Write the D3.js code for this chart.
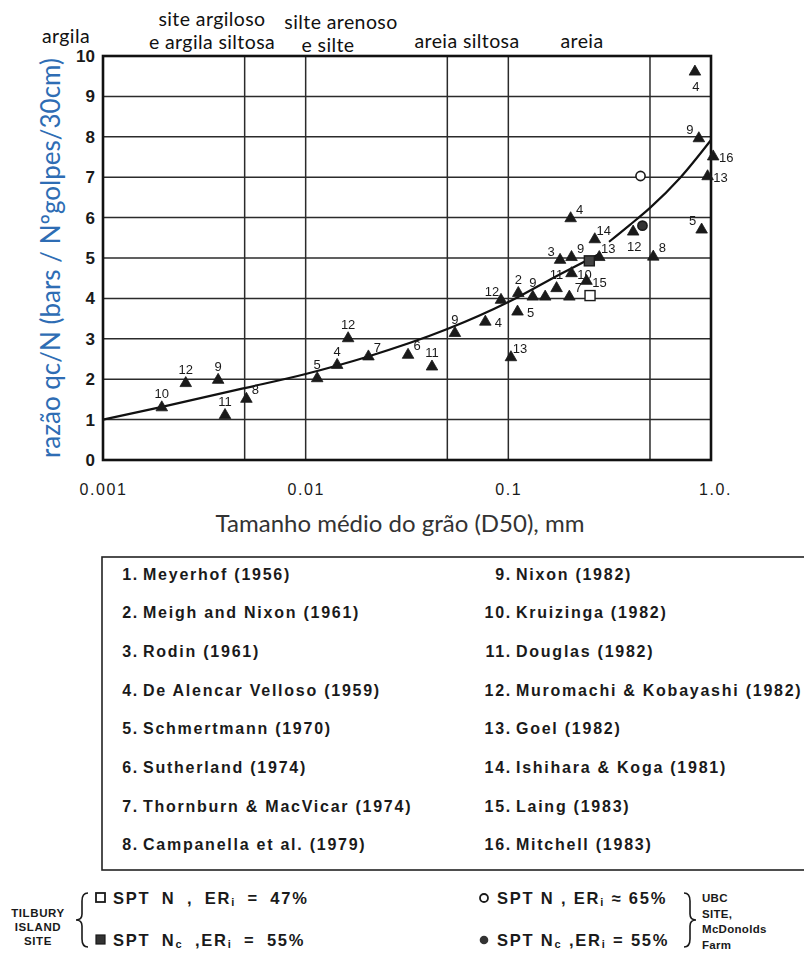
<!DOCTYPE html>
<html>
<head>
<meta charset="utf-8">
<script src="https://cdn.jsdelivr.net/npm/d3@7"></script>
<style>
  body { margin: 0; background: #fff; }
  svg { display: block; }
</style>
</head>
<body>
<svg id="chart" width="804" height="953"></svg>
<script>
// ---- data -------------------------------------------------------------
// study number written next to each triangle (blank = unnumbered point)
const studyLabels = ["10","12","9","11","8","5","4","12","7","6","11","9","4","12","2","5","13","9","","11",
                     "3","9","10","7","4","14","13","15","12","8","5","4","9","16","13"];
// mean grain size D50 (mm)
const grainSize = [0.00195,0.00256,0.0037,0.0040,0.0051,0.0114,0.0143,0.0162,0.0204,0.032,0.042,0.0545,0.077,0.092,0.112,0.111,0.103,0.132,0.152,0.173,
                   0.180,0.205,0.205,0.200,0.203,0.267,0.281,0.243,0.413,0.519,0.899,0.833,0.871,1.025,0.962];
// qc/N ratio
const ratio = [1.30,1.90,1.98,1.11,1.51,2.02,2.35,3.01,2.56,2.60,2.31,3.14,3.42,3.96,4.13,3.67,2.54,4.04,4.04,4.25,
               4.95,5.02,4.62,4.04,5.98,5.46,5.02,4.43,5.65,5.03,5.70,9.61,7.96,7.51,7.02];
// where the study number sits relative to its triangle
const labelSide = ["N","N","N","N","NE","N","N","N","NE","NE","N","N","E","NW","N","E","NE","N","N","N",
                   "NW","NE","E","NE","NE","NE","NE","E","S","NE","NW","S","NW","E","E"];

// Tilbury Island and UBC site results
const siteKind = ["openSquare","filledSquare","openCircle","filledCircle"];
const siteD50 = [0.253, 0.251, 0.449, 0.459];
const siteRatio = [4.07, 4.93, 7.03, 5.80];

// average trend curve (null = break in the line)
const curveD50 = [0.001,0.00193,0.005,0.01,0.02,0.05,0.1,0.18,0.286,0.30,0.314,0.398,0.5,0.703,1.0];
const curveRatio = [1.0,1.31,1.78,2.13,2.55,3.24,3.91,4.60,5.12,null,5.40,5.82,6.24,6.98,7.92];

// axes
const yTicks = [0,1,2,3,4,5,6,7,8,9,10];
const xTicks = [0.001, 0.01, 0.1, 1];
const xTickLabels = ["0.001", "0.01", "0.1", "1.0."];
const classBounds = [0.005, 0.01, 0.05, 0.1, 0.5];

// soil classes across the top
const soilClasses = [["argila"], ["site argiloso", "e argila siltosa"], ["silte arenoso", "e silte"], ["areia siltosa"], ["areia"]];

// references
const references = ["Meyerhof (1956)", "Meigh and Nixon (1961)", "Rodin (1961)", "De Alencar Velloso (1959)",
  "Schmertmann (1970)", "Sutherland (1974)", "Thornburn & MacVicar (1974)", "Campanella et al. (1979)",
  "Nixon (1982)", "Kruizinga (1982)", "Douglas (1982)", "Muromachi & Kobayashi (1982)",
  "Goel (1982)", "Ishihara & Koga (1981)", "Laing (1983)", "Mitchell (1983)"];

// ---- layout -----------------------------------------------------------
const svg = d3.select("#chart");
const plot = { left: 103, right: 711, top: 56, bottom: 460 };
const x = d3.scaleLog().domain([0.001, 1]).range([plot.left, plot.right]);
const y = d3.scaleLinear().domain([0, 10]).range([plot.bottom, plot.top]);
const ink = "#1a1a1a";
const labelFont = "'Liberation Sans', Arial, sans-serif";
const humanist = "Lato, 'Open Sans', sans-serif";

// grid
const grid = svg.append("g");
grid.selectAll("line.h").data(yTicks.slice(1, -1)).join("line").attr("class", "h")
  .attr("x1", plot.left).attr("x2", plot.right)
  .attr("y1", d => y(d)).attr("y2", d => y(d))
  .attr("stroke", "#2b2b2b").attr("stroke-width", 1.5);
grid.selectAll("line.v").data(classBounds).join("line").attr("class", "v")
  .attr("x1", d => x(d)).attr("x2", d => x(d))
  .attr("y1", plot.top).attr("y2", plot.bottom)
  .attr("stroke", "#2b2b2b").attr("stroke-width", 1.5);

// frame
svg.append("rect")
  .attr("x", plot.left).attr("y", plot.top)
  .attr("width", plot.right - plot.left).attr("height", plot.bottom - plot.top)
  .attr("fill", "none").attr("stroke", "#111").attr("stroke-width", 2.6);

// y axis labels
const yAxis = svg.append("g").attr("transform", `translate(${plot.left - 8},0)`)
  .call(d3.axisLeft(y).tickValues(yTicks).tickSize(0).tickPadding(0).tickFormat(d => String(d)));
yAxis.select(".domain").remove();
yAxis.selectAll("text").attr("font-family", labelFont).attr("font-weight", "bold")
  .attr("font-size", 17).attr("fill", ink);

// x axis labels
const xAxis = svg.append("g").attr("transform", `translate(0,${plot.bottom})`)
  .call(d3.axisBottom(x).tickValues(xTicks).tickSize(0).tickPadding(24)
    .tickFormat((d, i) => xTickLabels[i]));
xAxis.select(".domain").remove();
xAxis.selectAll("text").attr("font-family", labelFont).attr("font-size", 16)
  .attr("letter-spacing", "1.6px").attr("fill", ink);
xAxis.selectAll(".tick:last-of-type text").attr("dx", "4px");

// axis titles
svg.append("text")
  .attr("transform", `translate(50,${(plot.top + plot.bottom) / 2}) rotate(-90)`)
  .attr("text-anchor", "middle").attr("dominant-baseline", "central")
  .attr("font-family", humanist).attr("font-size", 26).attr("fill", "#2e6db4")
  .text("razão qc/N (bars / Nºgolpes/30cm)");
svg.append("text")
  .attr("x", 400).attr("y", 522).attr("text-anchor", "middle").attr("dominant-baseline", "central")
  .attr("font-family", humanist).attr("font-size", 24).attr("fill", "#333")
  .text("Tamanho médio do grão (D50), mm");

// soil classes, one text element per line
const classCentre = [66, 212, 341, 467, 582];
const classTop = [35, 18, 21, 40, 40];
soilClasses.forEach((lines, i) => {
  lines.forEach((line, j) => {
    svg.append("text")
      .attr("x", classCentre[i] - (i === 2 && j === 1 ? 13 : 0))
      .attr("y", classTop[i] + j * 23)
      .attr("text-anchor", "middle").attr("dominant-baseline", "central")
      .attr("font-family", humanist).attr("font-size", 19.5).attr("letter-spacing", "0.4px")
      .attr("fill", "#111").text(line);
  });
});

// trend curve
const curvePts = curveD50.map((d, i) => [d, curveRatio[i]]);
svg.append("path")
  .attr("d", d3.line().defined(d => d[1] != null)
    .x(d => x(d[0])).y(d => y(d[1])).curve(d3.curveMonotoneX)(curvePts))
  .attr("fill", "none").attr("stroke", "#111").attr("stroke-width", 2.2);

// triangles
const pts = grainSize.map((d, i) => ({ d50: d, r: ratio[i], label: studyLabels[i], side: labelSide[i] }));
const tri = d3.symbol(d3.symbolTriangle, 58);
svg.append("g").selectAll("path").data(pts).join("path")
  .attr("d", tri).attr("transform", d => `translate(${x(d.d50)},${y(d.r)})`)
  .attr("fill", ink).attr("stroke", ink).attr("stroke-width", 0.8);

const offsets = { N: [0, -14], NE: [9, -9], E: [13, 1], NW: [-9, -9], S: [1, 15], W: [-12, 0] };
svg.append("g").style("filter", "grayscale(1)")
  .selectAll("text").data(pts.filter(d => d.label)).join("text")
  .attr("x", d => x(d.d50) + offsets[d.side][0])
  .attr("y", d => y(d.r) + offsets[d.side][1])
  .attr("text-anchor", "middle").attr("dominant-baseline", "central")
  .attr("font-family", "'Liberation Sans Narrow', 'Liberation Sans', sans-serif")
  .attr("font-size", 13).attr("fill", ink)
  .text(d => d.label);

// site markers
const sites = siteKind.map((k, i) => ({ kind: k, d50: siteD50[i], r: siteRatio[i] }));
const siteG = svg.append("g");
sites.forEach(s => {
  const cx = x(s.d50), cy = y(s.r);
  if (s.kind.endsWith("Square")) {
    siteG.append("rect").attr("x", cx - 5).attr("y", cy - 5).attr("width", 10).attr("height", 10)
      .attr("fill", s.kind === "filledSquare" ? "#444" : "#fff").attr("stroke", ink).attr("stroke-width", 1.4);
  } else {
    siteG.append("circle").attr("cx", cx).attr("cy", cy).attr("r", 4.6)
      .attr("fill", s.kind === "filledCircle" ? "#333" : "#fff").attr("stroke", ink).attr("stroke-width", 1.6);
  }
});

// ---- reference list ---------------------------------------------------
const legend = svg.append("g");
legend.append("rect").attr("x", 102).attr("y", 557).attr("width", 720).attr("height", 313)
  .attr("fill", "none").attr("stroke", "#222").attr("stroke-width", 1.6);
const rowY = i => 574 + (i % 8) * 38.7;
references.forEach((ref, i) => {
  const col = i < 8 ? 0 : 1;
  const nameX = col === 0 ? 143 : 516;
  legend.append("text").attr("x", nameX - 4).attr("y", rowY(i))
    .attr("text-anchor", "end").attr("dominant-baseline", "central")
    .attr("font-family", labelFont).attr("font-weight", "bold").attr("font-size", 16)
    .attr("letter-spacing", "1.75px").attr("fill", ink).text(`${i + 1}.`);
  legend.append("text").attr("x", nameX).attr("y", rowY(i))
    .attr("dominant-baseline", "central")
    .attr("font-family", labelFont).attr("font-weight", "bold").attr("font-size", 16)
    .attr("letter-spacing", "1.75px").attr("fill", ink).text(ref);
});

// ---- site key ---------------------------------------------------------
const key = svg.append("g").attr("font-family", labelFont).attr("font-weight", "bold").attr("fill", ink);
function brace(x0, y0, y1, dir) {
  const m = (y0 + y1) / 2, w = 6 * dir;
  const p = d3.path();
  p.moveTo(x0 + w, y0);
  p.quadraticCurveTo(x0, y0, x0, y0 + 8);
  p.lineTo(x0, m - 6);
  p.quadraticCurveTo(x0, m, x0 - w, m);
  p.quadraticCurveTo(x0, m, x0, m + 6);
  p.lineTo(x0, y1 - 8);
  p.quadraticCurveTo(x0, y1, x0 + w, y1);
  return p.toString();
}
key.append("path").attr("d", brace(82, 893, 947, 1)).attr("fill", "none").attr("stroke", ink).attr("stroke-width", 1.6);
key.append("path").attr("d", brace(690, 893, 947, -1)).attr("fill", "none").attr("stroke", ink).attr("stroke-width", 1.6);

["TILBURY", "ISLAND", "SITE"].forEach((t, i) => {
  key.append("text").attr("x", 38).attr("y", 913 + i * 14).attr("text-anchor", "middle")
    .attr("dominant-baseline", "central").attr("font-size", 11.5).attr("letter-spacing", "0.6px").text(t);
});
["UBC", "SITE,", "McDonolds", "Farm"].forEach((t, i) => {
  key.append("text").attr("x", 702).attr("y", 898 + i * 15.5)
    .attr("dominant-baseline", "central").attr("font-size", 11.5).attr("letter-spacing", "0.3px").text(t);
});

// key markers
key.append("rect").attr("x", 96).attr("y", 893).attr("width", 9).attr("height", 9)
  .attr("fill", "#fff").attr("stroke", ink).attr("stroke-width", 1.8);
key.append("rect").attr("x", 96).attr("y", 935).attr("width", 9).attr("height", 9)
  .attr("fill", "#333").attr("stroke", ink).attr("stroke-width", 1.2);
key.append("circle").attr("cx", 484).attr("cy", 898).attr("r", 4)
  .attr("fill", "#fff").attr("stroke", ink).attr("stroke-width", 1.8);
key.append("circle").attr("cx", 484).attr("cy", 940).attr("r", 4.3).attr("fill", "#333");

function keyEntry(x0, y0, sub, rel, pct, gap) {
  const t = key.append("text").attr("x", x0).attr("y", y0).attr("dominant-baseline", "central")
    .attr("font-size", 16.5).attr("letter-spacing", "1.8px").attr("word-spacing", gap + "px");
  t.append("tspan").text("SPT N");
  if (sub) t.append("tspan").attr("font-size", 11).attr("dy", 4).text("c");
  t.append("tspan").attr("dy", sub ? -4 : 0).text(sub ? " ,ER" : " , ER");
  t.append("tspan").attr("font-size", 11).attr("dy", 4).text("i");
  t.append("tspan").attr("dy", -4).text(` ${rel} ${pct}`);
}
keyEntry(113, 898, false, "=", "47%", 5);
keyEntry(113, 940, true, "=", "55%", 5);
keyEntry(497, 898, false, "≈", "65%", 0);
keyEntry(497, 940, true, "=", "55%", 0);
</script>
</body>
</html>
